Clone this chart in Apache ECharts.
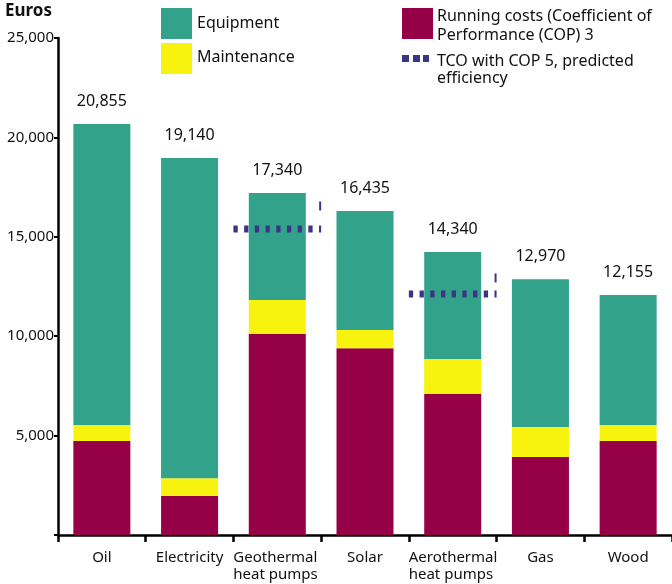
<!DOCTYPE html>
<html><head><meta charset="utf-8">
<script src="https://cdn.jsdelivr.net/npm/echarts@6/dist/echarts.min.js"></script>
<style>html,body{margin:0;padding:0;background:#fff}#c{width:672px;height:584px}</style>
</head><body><div id="c"></div>
<script>
const categories = ['Oil','Electricity','Geothermal\nheat pumps','Solar','Aerothermal\nheat pumps','Gas','Wood'];
const runningCosts = [4730, 1960, 10110, 9400, 7090, 3920, 4730];
const maintenance  = [800, 900, 1710, 910, 1760, 1510, 800];
const equipment    = [15140, 16100, 5380, 5990, 5380, 7440, 6540];
const totalLabels  = ['20,855','19,140','17,340','16,435','14,340','12,970','12,155'];
const tcoIndex     = [2, 4];
const tcoValues    = [15390, 12120];
const tcoMarks     = [16550, 12930];
const yTicks       = [0, 5000, 10000, 15000, 20000, 25000];

const FONT = 'Noto Sans';
const chart = echarts.init(document.getElementById('c'), null, {renderer:'canvas'});

const tcoData = tcoIndex.map((c,i)=>[c, tcoValues[i], tcoMarks[i]]);

chart.setOption({
  animation:false,
  textStyle:{fontFamily:FONT},
  grid:{left:58,right:0,top:38,bottom:49},
  xAxis:{
    type:'category', data:categories, boundaryGap:true,
    axisLine:{lineStyle:{color:'#000',width:2.5}},
    axisTick:{show:true,length:7,lineStyle:{color:'#000',width:2.5}},
    axisLabel:{color:'#111',fontSize:15,lineHeight:17,margin:14,fontFamily:FONT,interval:0,
      formatter:v=>{
        const parts = v.split('\n');
        if (parts.length < 2) return v;
        return parts.map(s=>'{l|'+s+'}').join('\n');
      },
      rich:{l:{fontSize:15,lineHeight:17,width:88,align:'left',color:'#111',fontFamily:FONT}}
    }
  },
  yAxis:{
    type:'value', min:yTicks[0], max:yTicks[yTicks.length-1], interval:5000,
    splitLine:{show:false},
    axisLine:{show:true,lineStyle:{color:'#000',width:2.5}},
    axisTick:{show:true,length:4,lineStyle:{color:'#000',width:2}},
    axisLabel:{color:'#111',fontSize:15,margin:4,fontFamily:FONT,
      formatter:v=> v===0 ? '' : v.toLocaleString('en-US')}
  },
  series:[
    {name:'Running costs',type:'bar',stack:'s',data:runningCosts,barWidth:'65%',
      itemStyle:{color:'#960046'}},
    {name:'Maintenance',type:'bar',stack:'s',data:maintenance,
      itemStyle:{color:'#f7f30f'}},
    {name:'Equipment',type:'bar',stack:'s',data:equipment,
      itemStyle:{color:'#33a28a'},
      label:{show:true,position:'top',distance:15,color:'#111',fontSize:16,fontFamily:FONT,
        formatter:p=>totalLabels[p.dataIndex]}},
    {name:'TCO',type:'custom',data:tcoData,z:10,
      renderItem:(params,api)=>{
        const p = api.coord([api.value(0), api.value(1)]);
        const m = api.coord([api.value(0), api.value(2)]);
        const w = api.size([1,0])[0];
        return {type:'group',children:[
          {type:'line',shape:{x1:p[0]-w/2,y1:p[1],x2:p[0]+w/2,y2:p[1]},
            style:{stroke:'#3c3585',lineWidth:7,lineDash:[4.3,6.4]}},
          {type:'line',shape:{x1:p[0]+w/2-1,y1:m[1]-4.5,x2:p[0]+w/2-1,y2:m[1]+4.5},
            style:{stroke:'#3c3585',lineWidth:2}}
        ]};
      }}
  ],
  graphic:[
    {type:'text',left:5,top:3,style:{text:'Euros',font:'bold 17px "Noto Sans"',fill:'#111'}},
    {type:'rect',shape:{x:161,y:8,width:31,height:31},style:{fill:'#33a28a'}},
    {type:'rect',shape:{x:161,y:43,width:31,height:31},style:{fill:'#f7f30f'}},
    {type:'text',x:197,y:23,style:{text:'Equipment',font:'16px "Noto Sans"',fill:'#111',verticalAlign:'middle'}},
    {type:'text',x:197,y:57,style:{text:'Maintenance',font:'16px "Noto Sans"',fill:'#111',verticalAlign:'middle'}},
    {type:'rect',shape:{x:402,y:8,width:31,height:31},style:{fill:'#960046'}},
    {type:'text',x:437,y:7,style:{text:'Running costs (Coefficient of\nPerformance (COP) 3',font:'16px "Noto Sans"',lineHeight:19,fill:'#111'}},
    {type:'rect',shape:{x:402,y:55,width:7,height:7},style:{fill:'#3c3585'}},
    {type:'rect',shape:{x:413,y:55,width:7,height:7},style:{fill:'#3c3585'}},
    {type:'rect',shape:{x:423,y:55,width:6,height:7},style:{fill:'#3c3585'}},
    {type:'text',x:437,y:53,style:{text:'TCO with COP 5, predicted\nefficiency',font:'16px "Noto Sans"',lineHeight:17,fill:'#111'}}
  ]
});
</script></body></html>
